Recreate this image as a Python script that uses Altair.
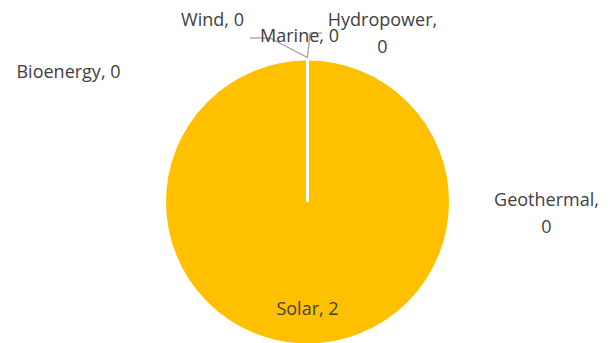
import altair as alt
import pandas as pd

# Installed capacity by source
sources = ["Solar", "Wind", "Marine", "Hydropower", "Geothermal", "Bioenergy"]
capacity = [2, 0, 0, 0, 0, 0]

df = pd.DataFrame({"source": sources, "capacity": capacity, "order": list(range(len(sources)))})
df["label"] = [f"{s}, {v}" for s, v in zip(sources, capacity)]
df.loc[df["source"] == "Hydropower", "label"] = "Hydropower,\n0"
df.loc[df["source"] == "Geothermal", "label"] = "Geothermal,\n0"

CX, CY, R = 307.5, 202, 143
GOLD = "#FFC000"
TEXT = "#404040"
FONT = "Open Sans"
FS = 18

base = alt.Chart(df).encode(
    theta=alt.Theta("capacity:Q", stack=True),
    order=alt.Order("order:Q"),
)

pie = base.mark_arc(radius=R, stroke="white", strokeWidth=3, color=GOLD).encode(
    x=alt.value(CX), y=alt.value(CY)
)

# label offsets relative to the slice anchor point (first line of each label)
label_offsets = {
    "Solar": (0, 0),
    "Wind": (-95, 21 - (CY - 160)),
    "Marine": (-8, 37 - (CY - 160)),
    "Hydropower": (75, 21 - (CY - 160)),
    "Geothermal": (239, 201 - (CY - 160)),
    "Bioenergy": (-239, 73 - (CY - 160)),
}

labels = []
for src, (dx, dy) in label_offsets.items():
    r = 108 if src == "Solar" else 160
    labels.append(
        base.transform_filter(alt.datum.source == src)
        .mark_text(
            radius=r, dx=dx, dy=dy, font=FONT, fontSize=FS, color=TEXT,
            align="center", baseline="middle", lineBreak="\n", lineHeight=27,
        )
        .encode(x=alt.value(CX), y=alt.value(CY), text="label:N")
    )

# leader lines from the top of the pie to the small-slice labels
leader_segments = [
    (250, 38, 270, 38),
    (270, 38, 307.5, 57.5),
    (307.5, 57.5, 310, 33),
    (310, 33, 322, 33),
]
leader_df = pd.DataFrame(leader_segments, columns=["x1", "y1", "x2", "y2"])
leaders = alt.Chart(leader_df).mark_rule(color="#9A9A9A", strokeWidth=1.2).encode(
    x=alt.X("x1:Q", scale=alt.Scale(domain=[0, 610], range=[0, 610]), axis=None),
    x2="x2:Q",
    y=alt.Y("y1:Q", scale=alt.Scale(domain=[0, 343], range=[0, 343]), axis=None),
    y2="y2:Q",
)

chart = (
    alt.layer(pie, leaders, *labels)
    .resolve_scale(x="independent", y="independent", theta="shared")
    .properties(width=610, height=343, padding=0, autosize=alt.AutoSizeParams(type="none"))
    .configure_view(stroke=None)
)

chart.save("out.html", embed_options={"renderer": "svg", "actions": False})
